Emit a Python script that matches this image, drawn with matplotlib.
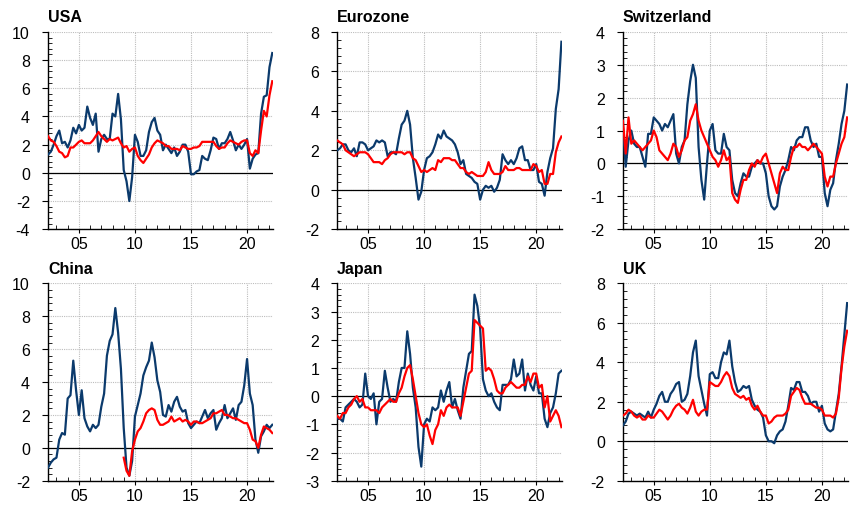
import numpy as np
import matplotlib.pyplot as plt
from matplotlib.ticker import AutoMinorLocator, MultipleLocator

plt.rcParams['font.family'] = ['Liberation Sans', 'DejaVu Sans']
plt.rcParams['axes.unicode_minus'] = False

# Quarterly observations, 2002 Q2 .. 2022 Q2 (decimal years)
years = 2002.25 + 0.25 * np.arange(81)

# headline CPI (y/y %), one row per calendar year
usa_headline = [1.3, 1.5, 2.0,
                2.6, 3.0, 2.1, 2.2,
                1.8, 2.3, 3.2, 2.8,
                3.4, 3.0, 3.2, 4.7,
                3.9, 3.4, 4.2, 1.5,
                2.4, 2.7, 2.4, 2.4,
                4.2, 4.0, 5.6, 3.8,
                0.2, -0.6, -2.0, -0.3,
                2.7, 2.2, 1.2, 1.2,
                1.6, 2.9, 3.6, 3.9,
                3.0, 2.7, 1.6, 2.0,
                1.7, 1.4, 1.8, 1.2,
                1.5, 2.0, 2.0, 1.5,
                -0.1, -0.1, 0.1, 0.2,
                1.2, 1.0, 0.9, 1.6,
                2.5, 2.4, 1.7, 2.1,
                2.1, 2.4, 2.9, 2.3,
                1.6, 2.0, 1.7, 2.0,
                2.4, 0.3, 1.0, 1.3,
                1.4, 4.2, 5.4, 5.5,
                7.5, 8.5]
usa_core = [2.6, 2.3, 2.2,
            1.9, 1.5, 1.4, 1.1,
            1.2, 1.8, 1.8, 2.0,
            2.2, 2.3, 2.1, 2.1,
            2.1, 2.3, 2.6, 2.9,
            2.6, 2.4, 2.2, 2.4,
            2.3, 2.4, 2.5, 2.1,
            1.8, 1.9, 1.5, 1.7,
            1.8, 1.2, 0.9, 0.7,
            1.0, 1.3, 1.8, 2.1,
            2.3, 2.2, 2.1, 1.9,
            1.9, 1.7, 1.7, 1.7,
            1.6, 1.9, 1.8, 1.7,
            1.7, 1.8, 1.8, 1.9,
            2.2, 2.2, 2.2, 2.2,
            2.2, 1.9, 1.7, 1.8,
            1.8, 2.1, 2.3, 2.2,
            2.1, 2.0, 2.2, 2.3,
            2.3, 1.4, 1.2, 1.6,
            1.4, 3.0, 4.4, 4.0,
            5.5, 6.5]

ez_headline = [2.0, 2.1, 2.3,
               2.3, 2.0, 1.9, 2.1,
               1.7, 2.4, 2.4, 2.3,
               2.0, 2.1, 2.2, 2.5,
               2.4, 2.5, 2.4, 1.7,
               1.9, 1.9, 1.8, 2.6,
               3.3, 3.5, 4.0, 3.3,
               1.6, 0.6, -0.5, -0.1,
               1.0, 1.6, 1.7, 1.9,
               2.3, 2.8, 2.6, 3.0,
               2.7, 2.6, 2.5, 2.3,
               1.9, 1.3, 1.5, 0.8,
               0.7, 0.6, 0.4, 0.3,
               -0.5, 0.0, 0.2, 0.1,
               0.2, -0.1, 0.1, 0.5,
               1.8, 1.5, 1.3, 1.5,
               1.3, 1.6, 2.1, 2.2,
               1.5, 1.5, 1.0, 1.0,
               1.3, 0.4, 0.3, -0.3,
               0.9, 1.6, 2.1, 4.1,
               5.1, 7.5]
ez_core = [2.5, 2.4, 2.3,
           2.0, 1.9, 1.8, 1.7,
           1.8, 1.9, 1.9, 1.9,
           1.8, 1.6, 1.4, 1.4,
           1.4, 1.3, 1.5, 1.6,
           1.8, 1.9, 1.9, 1.9,
           1.9, 1.8, 1.9, 1.9,
           1.6, 1.5, 1.2, 0.9,
           1.0, 0.9, 1.0, 1.1,
           1.0, 1.5, 1.4, 1.6,
           1.6, 1.6, 1.5, 1.5,
           1.3, 1.1, 1.1, 0.9,
           0.8, 0.9, 0.8, 0.7,
           0.7, 0.7, 0.9, 1.4,
           1.0, 0.8, 0.8, 0.8,
           0.9, 1.2, 1.0, 1.0,
           1.0, 1.1, 1.1, 1.0,
           1.0, 1.0, 1.0, 1.3,
           1.2, 0.9, 1.0, 0.3,
           0.3, 0.8, 0.8, 1.9,
           2.4, 2.7]

ch_headline = [1.1, -0.1, 0.7,
               1.0, 0.6, 0.5, 0.5,
               0.2, -0.1, 0.9, 0.9,
               1.4, 1.3, 1.2, 1.0,
               1.2, 1.1, 1.3, 1.5,
               0.3, 0.0, 0.5, 0.7,
               1.8, 2.5, 3.0, 2.6,
               0.5, -0.5, -1.1, 0.0,
               1.0, 1.2, 0.4, 0.3,
               0.3, 0.9, 0.5, 0.4,
               -0.5, -0.9, -1.0, -0.6,
               -0.3, -0.4, -0.4, -0.1,
               0.0, 0.1, 0.0, 0.0,
               -0.3, -1.0, -1.3, -1.4,
               -1.3, -0.7, -0.4, -0.2,
               0.1, 0.5, 0.4, 0.7,
               0.8, 0.8, 1.1, 1.1,
               0.7, 0.5, 0.6, 0.2,
               0.2, -0.9, -1.3, -0.8,
               -0.6, 0.1, 0.6, 1.2,
               1.6, 2.4]
ch_core = [1.3, 0.3, 1.4,
           0.6, 0.7, 0.6, 0.5,
           0.4, 0.5, 0.6, 0.7,
           1.0, 0.8, 0.4, 0.3,
           0.2, 0.1, 0.3, 0.6,
           0.5, 0.2, 0.4, 0.7,
           0.8, 1.3, 1.5, 1.8,
           1.3, 1.0, 0.8, 0.6,
           0.4, 0.2, 0.1, -0.1,
           0.1, 0.4, 0.1, 0.2,
           -0.9, -1.1, -1.2, -0.8,
           -0.5, -0.5, -0.2, 0.0,
           -0.1, 0.1, 0.0, 0.2,
           0.3, 0.0, -0.3, -0.6,
           -0.9, -0.3, -0.1, -0.2,
           -0.2, 0.2, 0.5, 0.5,
           0.6, 0.5, 0.5, 0.4,
           0.5, 0.6, 0.5, 0.4,
           0.3, -0.4, -0.7, -0.4,
           -0.4, 0.0, 0.3, 0.6,
           0.8, 1.4]

cn_headline = [-1.2, -0.9, -0.7,
               -0.6, 0.5, 0.9, 0.8,
               3.0, 3.2, 5.3, 3.5,
               2.0, 3.5, 1.8, 1.3,
               1.0, 1.4, 1.2, 1.4,
               2.5, 3.3, 5.6, 6.5,
               6.9, 8.5, 7.0, 4.8,
               1.2, -1.2, -1.7, -0.8,
               1.9, 2.6, 3.3, 4.4,
               4.9, 5.3, 6.4, 5.5,
               4.1, 3.4, 2.0, 1.9,
               2.6, 2.2, 2.8, 3.1,
               2.5, 2.2, 2.3, 1.5,
               1.2, 1.4, 1.6, 1.5,
               1.9, 2.3, 1.8, 2.1,
               2.3, 1.1, 1.5, 1.8,
               2.6, 1.8, 2.1, 2.4,
               1.7, 2.6, 2.8, 3.8,
               5.4, 3.3, 2.6, 0.5,
               -0.3, 0.7, 1.0, 1.4,
               1.2, 1.4]
cn_core = [np.nan, np.nan, np.nan,
           np.nan, np.nan, np.nan, np.nan,
           np.nan, np.nan, np.nan, np.nan,
           np.nan, np.nan, np.nan, np.nan,
           np.nan, np.nan, np.nan, np.nan,
           np.nan, np.nan, np.nan, np.nan,
           np.nan, np.nan, np.nan, np.nan,
           -0.6, -1.4, -1.7, -0.2,
           0.5, 1.0, 1.2, 1.6,
           2.1, 2.3, 2.4, 2.3,
           1.7, 1.4, 1.4, 1.5,
           1.6, 1.9, 1.6, 1.7,
           1.8, 1.6, 1.7, 1.6,
           1.4, 1.6, 1.6, 1.5,
           1.5, 1.6, 1.7, 1.8,
           2.1, 2.1, 2.2, 2.3,
           2.0, 2.0, 1.9, 1.8,
           1.8, 1.7, 1.6, 1.5,
           1.5, 1.1, 0.5, 0.4,
           0.0, 0.8, 1.3, 1.2,
           1.1, 0.9]

jp_headline = [-0.8, -0.8, -0.9,
               -0.4, -0.3, -0.2, -0.1,
               -0.2, -0.4, -0.3, 0.8,
               0.0, -0.1, 0.1, -1.0,
               -0.2, -0.1, 0.9, 0.3,
               -0.2, -0.1, -0.2, 0.5,
               1.0, 1.0, 2.3, 1.5,
               0.3, -0.4, -1.8, -2.5,
               -1.0, -0.8, -0.9, -0.4,
               -0.5, -0.4, 0.2, -0.2,
               0.2, 0.5, -0.4, -0.1,
               -0.5, -0.8, 0.3, 0.9,
               1.5, 1.6, 3.6, 3.2,
               2.4, 0.6, 0.2, 0.0,
               0.1, -0.2, -0.4, -0.5,
               0.4, 0.4, 0.4, 0.6,
               1.3, 0.7, 0.8, 1.3,
               0.2, 0.8, 0.4, 0.2,
               0.7, 0.1, 0.1, -0.8,
               -1.1, -0.6, -0.4, 0.1,
               0.8, 0.9]
jp_core = [-0.7, -0.8, -0.6,
           -0.6, -0.4, -0.3, -0.1,
           0.0, -0.2, -0.1, -0.4,
           -0.4, -0.5, -0.5, -0.5,
           -0.6, -0.4, -0.3, -0.2,
           -0.1, -0.2, -0.2, 0.1,
           0.3, 0.7, 1.0, 1.1,
           0.6, 0.0, -0.6, -1.0,
           -1.1, -1.0, -1.4, -1.7,
           -1.2, -1.0, -0.5, -0.7,
           -0.4, -0.3, -0.4, -0.4,
           -0.4, -0.7, -0.2, 0.3,
           0.8, 0.9, 2.7, 2.6,
           2.5, 2.4, 0.9, 1.0,
           0.9, 0.6, 0.2, 0.1,
           0.1, 0.3, 0.4, 0.5,
           0.4, 0.3, 0.3, 0.4,
           0.4, 0.7, 0.5, 0.8,
           0.8, 0.3, 0.4, -0.4,
           0.0, -0.9, -0.7, -0.5,
           -0.7, -1.1]

uk_headline = [0.8, 1.0, 1.4,
               1.5, 1.4, 1.3, 1.4,
               1.3, 1.2, 1.5, 1.2,
               1.6, 1.9, 2.3, 2.5,
               2.0, 2.0, 2.4, 2.6,
               2.9, 3.0, 2.0, 2.1,
               2.4, 3.3, 4.5, 5.1,
               3.3, 2.6, 1.9, 1.3,
               3.4, 3.5, 3.2, 3.2,
               4.0, 4.5, 4.4, 5.1,
               3.8, 3.0, 2.5, 2.6,
               2.8, 2.7, 2.8, 2.1,
               1.8, 1.6, 1.5, 1.2,
               0.3, 0.0, 0.0, -0.1,
               0.3, 0.5, 0.6, 1.0,
               1.8, 2.7, 2.6, 3.0,
               3.0, 2.5, 2.5, 2.3,
               1.9, 2.0, 2.0, 1.5,
               1.8, 0.9, 0.6, 0.5,
               0.6, 1.5, 2.4, 3.8,
               5.4, 7.0]
uk_core = [1.3, 1.4, 1.6,
           1.5, 1.3, 1.2, 1.3,
           1.1, 1.1, 1.3, 1.2,
           1.2, 1.4, 1.6, 1.5,
           1.3, 1.1, 1.3, 1.6,
           1.8, 1.9, 1.7, 1.6,
           1.4, 1.7, 2.1, 1.5,
           1.3, 1.5, 1.6, 1.6,
           3.0, 2.9, 2.8, 2.8,
           3.0, 3.3, 3.5, 3.3,
           2.7, 2.4, 2.3, 2.2,
           2.3, 2.1, 2.2, 1.8,
           1.6, 1.8, 1.5, 1.3,
           1.3, 0.9, 1.0, 1.2,
           1.3, 1.3, 1.3, 1.4,
           1.6, 2.3, 2.5, 2.7,
           2.6, 2.2, 1.9, 1.9,
           1.9, 1.8, 1.7, 1.7,
           1.6, 1.3, 1.3, 1.3,
           1.2, 1.4, 2.2, 3.7,
           4.8, 5.6]

countries = ['USA', 'Eurozone', 'Switzerland', 'China', 'Japan', 'UK']
headline = [usa_headline, ez_headline, ch_headline, cn_headline, jp_headline, uk_headline]
core = [usa_core, ez_core, ch_core, cn_core, jp_core, uk_core]
y_ranges = [(-4, 10, 2), (-2, 8, 2), (-2, 4, 1), (-2, 10, 2), (-3, 4, 1), (-2, 8, 2)]

navy = '#0b3a6c'
red = '#ff0000'

fig = plt.figure(figsize=(8.58, 5.06), dpi=100)

lefts = [0.056, 0.393, 0.726]
bottoms = [0.545, 0.048]
w, h = 0.262, 0.39

for i, name in enumerate(countries):
    ax = fig.add_axes([lefts[i % 3], bottoms[i // 3], w, h])
    ymin, ymax, step = y_ranges[i]

    ax.axhline(0, color='black', linewidth=0.9, zorder=2)
    ax.plot(years, headline[i], color=navy, linewidth=1.6, zorder=3)
    ax.plot(years, core[i], color=red, linewidth=1.6, zorder=4)

    ax.set_xlim(2002.25, 2022.3)
    ax.set_ylim(ymin, ymax)
    ax.set_xticks([2005, 2010, 2015, 2020])
    ax.set_xticklabels(['05', '10', '15', '20'])
    ax.xaxis.set_minor_locator(MultipleLocator(1))
    ax.set_yticks(np.arange(ymin, ymax + step / 2, step))
    ax.yaxis.set_minor_locator(AutoMinorLocator(5))

    ax.grid(which='major', color='#bdbdbd', linestyle=(0, (1, 1)), linewidth=0.8)
    ax.set_axisbelow(True)

    for side in ['top', 'right']:
        ax.spines[side].set_visible(False)
    for side in ['left', 'bottom']:
        ax.spines[side].set_linewidth(1.0)

    ax.tick_params(axis='y', which='major', direction='out', length=4, pad=9, labelsize=11.5)
    ax.tick_params(axis='y', which='minor', direction='in', length=3)
    ax.tick_params(axis='x', which='major', direction='out', length=3, pad=2, labelsize=11.5)
    ax.tick_params(axis='x', which='minor', direction='in', length=3)

    ax.text(0.0, 1.055, name, transform=ax.transAxes, fontsize=11.5,
            fontweight='bold', ha='left', va='baseline')

fig.savefig('out.png', dpi=100)
